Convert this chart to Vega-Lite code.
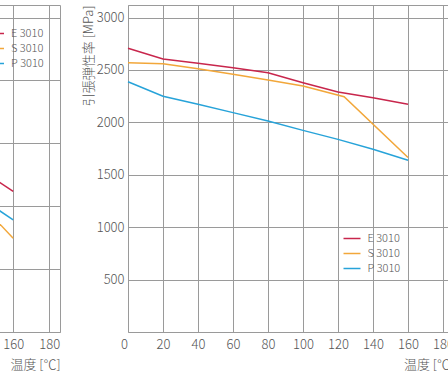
{
  "$schema": "https://vega.github.io/schema/vega-lite/v6.json",
  "padding": {"left": -283, "top": 4, "right": 0, "bottom": 0},
  "config": {
    "font": "Noto Sans CJK JP",
    "view": {"stroke": "#9a9a9a", "strokeWidth": 1},
    "axis": {
      "gridColor": "#9a9a9a", "gridOpacity": 1, "gridWidth": 1,
      "domain": false, "ticks": false, "format": "d",
      "labelColor": "#555555", "labelFontSize": 13, "labelFontWeight": 300,
      "titleColor": "#555555", "titleFontSize": 13, "titleFontWeight": 300
    },
    "legend": {
      "orient": "none", "title": null, "symbolType": "stroke", "symbolSize": 289,
      "symbolStrokeWidth": 1.5, "labelFontSize": 11, "labelColor": "#555555",
      "labelFontWeight": 300, "labelOffset": 6, "rowPadding": -2
    },
    "concat": {"spacing": 20}
  },
  "datasets": {
    "left": [
      {"grade": "E 3010", "temp": 140, "value": 52.3},
      {"grade": "E 3010", "temp": 160, "value": 44.7},
      {"grade": "S 3010", "temp": 140, "value": 42.0},
      {"grade": "S 3010", "temp": 160, "value": 29.8},
      {"grade": "P 3010", "temp": 140, "value": 43.3},
      {"grade": "P 3010", "temp": 160, "value": 35.7}
    ],
    "modulus": [
      {"grade": "E 3010", "temp": 0, "value": 2707},
      {"grade": "E 3010", "temp": 20, "value": 2605},
      {"grade": "E 3010", "temp": 40, "value": 2564},
      {"grade": "E 3010", "temp": 60, "value": 2522},
      {"grade": "E 3010", "temp": 80, "value": 2474},
      {"grade": "E 3010", "temp": 100, "value": 2379},
      {"grade": "E 3010", "temp": 120, "value": 2290},
      {"grade": "E 3010", "temp": 140, "value": 2236},
      {"grade": "E 3010", "temp": 160, "value": 2173},
      {"grade": "S 3010", "temp": 0, "value": 2570},
      {"grade": "S 3010", "temp": 20, "value": 2560},
      {"grade": "S 3010", "temp": 40, "value": 2512},
      {"grade": "S 3010", "temp": 60, "value": 2459},
      {"grade": "S 3010", "temp": 80, "value": 2405},
      {"grade": "S 3010", "temp": 100, "value": 2347},
      {"grade": "S 3010", "temp": 123.5, "value": 2245},
      {"grade": "S 3010", "temp": 160, "value": 1665},
      {"grade": "P 3010", "temp": 0, "value": 2388},
      {"grade": "P 3010", "temp": 20, "value": 2249},
      {"grade": "P 3010", "temp": 40, "value": 2173},
      {"grade": "P 3010", "temp": 60, "value": 2093},
      {"grade": "P 3010", "temp": 80, "value": 2013},
      {"grade": "P 3010", "temp": 100, "value": 1924},
      {"grade": "P 3010", "temp": 120, "value": 1838},
      {"grade": "P 3010", "temp": 140, "value": 1743},
      {"grade": "P 3010", "temp": 160, "value": 1638}
    ]
  },
  "resolve": {"scale": {"color": "independent"}, "legend": {"color": "independent"}},
  "hconcat": [
    {
      "width": 335, "height": 327,
      "data": {"name": "left"},
      "mark": {"type": "line", "strokeWidth": 1.5},
      "encoding": {
        "x": {"field": "temp", "type": "quantitative",
          "scale": {"domain": [0, 186], "nice": false},
          "axis": {"values": [0, 20, 40, 60, 80, 100, 120, 140, 160, 180], "title": "温度 [℃]", "titleAnchor": "end", "labelPadding": 6, "titlePadding": 7,
            "labelOffset": {"condition": {"test": "datum.value === 0", "value": -7.5}, "value": 0}}},
        "y": {"field": "value", "type": "quantitative",
          "scale": {"domain": [0, 104], "nice": false},
          "axis": {"values": [0, 20, 40, 60, 80, 100], "labels": false, "title": null}},
        "color": {"field": "grade", "type": "nominal",
          "scale": {"domain": ["E 3010", "S 3010", "P 3010"], "range": ["#c8264c", "#f2a73a", "#27a3d9"]},
          "legend": {"legendX": 261, "legendY": 19}}
      }
    },
    {
      "width": 325.5, "height": 327,
      "data": {"name": "modulus"},
      "mark": {"type": "line", "strokeWidth": 1.5},
      "encoding": {
        "x": {"field": "temp", "type": "quantitative",
          "scale": {"domain": [0, 186], "nice": false},
          "axis": {"values": [0, 20, 40, 60, 80, 100, 120, 140, 160, 180], "title": "温度 [℃]", "titleAnchor": "end", "labelPadding": 6, "titlePadding": 7,
            "labelOffset": {"condition": {"test": "datum.value === 0", "value": -7.5}, "value": 0}}},
        "y": {"field": "value", "type": "quantitative",
          "scale": {"domain": [0, 3120], "nice": false},
          "axis": {"values": [500, 1000, 1500, 2000, 2500, 3000], "title": "引張弾性率 [MPa]", "titleAnchor": "end", "labelPadding": 4, "titlePadding": 1}},
        "color": {"field": "grade", "type": "nominal",
          "scale": {"domain": ["E 3010", "S 3010", "P 3010"], "range": ["#c8264c", "#f2a73a", "#27a3d9"]},
          "legend": {"legendX": 214.5, "legendY": 224}}
      }
    }
  ]
}
